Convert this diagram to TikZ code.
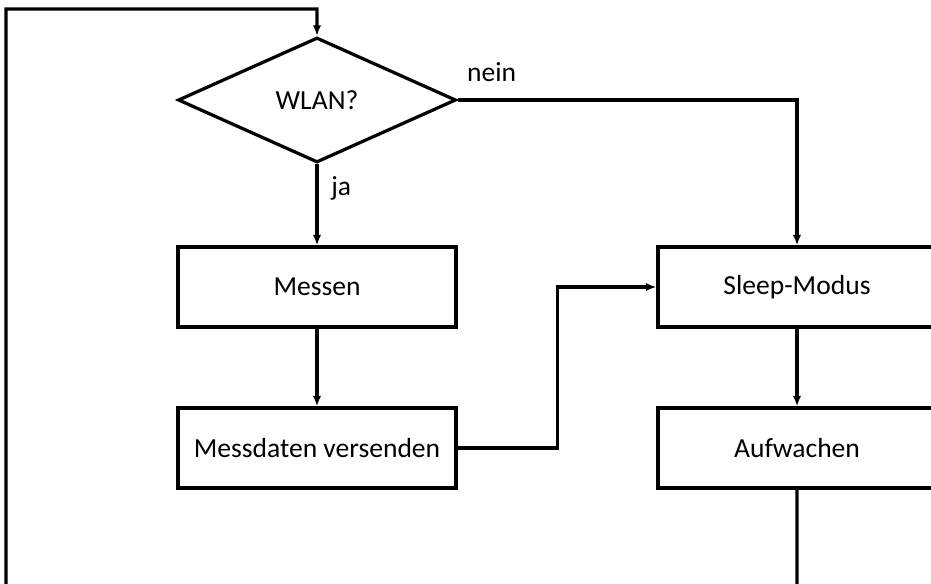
\documentclass[tikz,border=0pt]{standalone}
\usepackage{fontspec}
\setmainfont{Carlito}
\usetikzlibrary{arrows.meta,shapes.geometric}

\begin{document}
\begin{tikzpicture}[>={Latex[length=7.5pt,width=6pt]}, line width=2.3pt, node distance=4cm,
  font=\fontsize{19.6}{23}\selectfont,
  block/.style={draw, rectangle, minimum width=6.95cm, minimum height=2cm, inner sep=0pt},
  decision/.style={draw, diamond, minimum width=6.95cm, minimum height=3.125cm, inner sep=0pt}]

\useasboundingbox (0,0) rectangle (23.275,-14.575);
\clip (0,0) rectangle (23.275,-14.575);

\node[decision] (wlan)                                      at (7.925,-2.5) {WLAN?};
\node[block]    (messen) [below of=wlan, node distance=4.675cm]             {Messen};
\node[block]    (senden) [below of=messen, node distance=4.025cm]           {Messdaten versenden};
\node[block]    (sleep)  [right of=messen, node distance=12cm]              {Sleep-Modus};
\node[block]    (wach)   [below of=sleep, node distance=4.025cm]            {Aufwachen};

\coordinate (ende) at (19.925,-15.5);
\coordinate (ecke) at (0.15,-0.225);

\draw[->] (wlan.south) -- node[right, pos=0.3, xshift=0.2cm] {ja} (messen);
\draw[->] (wlan.east) -| node[above, pos=0.05, yshift=0.3cm] {nein} (sleep);
\draw[->] (messen) -- (senden);
\draw[->] (senden.east) -- ++(2.5,0) |- (sleep.west);
\draw[->] (sleep) -- (wach);
\draw[->] (wach) -- (ende) -| (ecke) -| (wlan.north);
\end{tikzpicture}
\end{document}
